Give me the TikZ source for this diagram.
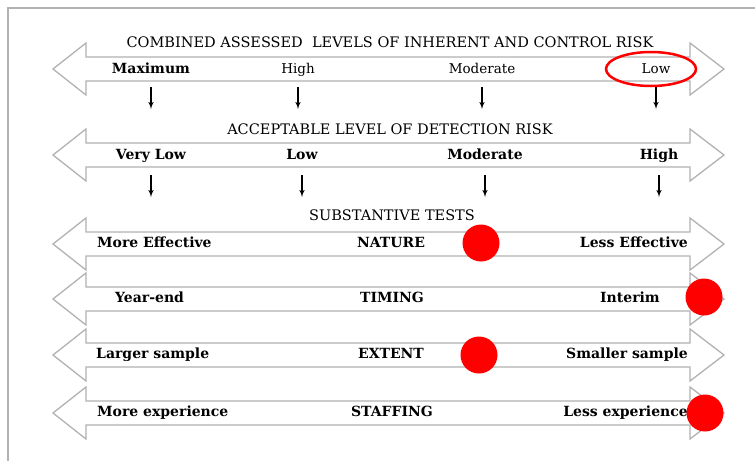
\documentclass[tikz,border=0pt]{standalone}
\usepackage{fontspec}
\setmainfont{DejaVu Serif}
\usepackage{tikz}
\usetikzlibrary{arrows}
\tikzset{
    bandarrow/.style = {
        draw=gray!60,
        line width=1.3pt,
        line join=miter
    },
    titlenode/.style = {
        font=\fontsize{14.5}{16}\selectfont,
        inner sep=0pt,
        text height=10.5pt,
        text depth=0pt
    },
    labelnode/.style = {
        font=\fontsize{13.5}{15}\selectfont,
        inner sep=0pt,
        text height=10pt,
        text depth=3pt
    },
    boldlabelnode/.style = {
        labelnode,
        font=\fontsize{14}{16}\selectfont\bfseries
    },
    downarrow/.style = {
        -latex',
        line width=1.4pt,
        draw=black
    },
    reddot/.style = {
        circle,
        fill=red,
        minimum size=37pt,
        inner sep=0pt
    }
}
\begin{document}
\begin{tikzpicture}[x=1pt,y=-1pt]
            \useasboundingbox (0,0) rectangle (755,461);
            \fill[white] (0,0) rectangle (755,461);
            % frame
            \draw[gray!60, line width=1.5pt] (755,8) -- (8,8) -- (8,461);

            % wide double arrows
            \draw[bandarrow] (86,57) -- (690,57) -- (690,43) -- (724,69) -- (690,95) -- (690,81) -- (86,81) -- (86,95) -- (53,69) -- (86,43) -- cycle;
            \draw[bandarrow] (86,143) -- (690,143) -- (690,129) -- (724,155) -- (690,181) -- (690,167) -- (86,167) -- (86,181) -- (53,155) -- (86,129) -- cycle;
            \draw[bandarrow] (86,232) -- (690,232) -- (690,218) -- (724,244) -- (690,270) -- (690,256) -- (86,256) -- (86,270) -- (53,244) -- (86,218) -- cycle;
            \draw[bandarrow] (86,287) -- (690,287) -- (690,273) -- (724,299) -- (690,325) -- (690,311) -- (86,311) -- (86,325) -- (53,299) -- (86,273) -- cycle;
            \draw[bandarrow] (86,343) -- (690,343) -- (690,329) -- (724,355) -- (690,381) -- (690,367) -- (86,367) -- (86,381) -- (53,355) -- (86,329) -- cycle;
            \draw[bandarrow] (86,401) -- (690,401) -- (690,387) -- (724,413) -- (690,439) -- (690,425) -- (86,425) -- (86,439) -- (53,413) -- (86,387) -- cycle;

            % titles
            \node [titlenode] (combined) at (390,42) {COMBINED ASSESSED\ \ LEVELS OF INHERENT AND CONTROL RISK};
            \node [titlenode] (acceptable) at (390,129) {ACCEPTABLE LEVEL OF DETECTION RISK};
            \node [titlenode] (substantive) at (392,215) {SUBSTANTIVE TESTS};

            % combined risk levels
            \node [boldlabelnode] (maximum) at (151,70) {Maximum};
            \node [labelnode] (high) at (298,70) {High};
            \node [labelnode] (moderate) at (482,70) {Moderate};
            \node [labelnode] (low) at (656,70) {Low};

            % detection risk levels
            \node [boldlabelnode] (verylowdr) at (151,156) {Very Low};
            \node [boldlabelnode] (lowdr) at (302,156) {Low};
            \node [boldlabelnode] (moderatedr) at (485,156) {Moderate};
            \node [boldlabelnode] (highdr) at (659,156) {High};

            % substantive tests
            \node [boldlabelnode, anchor=west] (moreeff) at (97,244) {More Effective};
            \node [boldlabelnode] (nature) at (391,244) {NATURE};
            \node [boldlabelnode, anchor=east] (lesseff) at (688,244) {Less Effective};

            \node [boldlabelnode, anchor=west] (yearend) at (115,299) {Year-end};
            \node [boldlabelnode] (timing) at (392,299) {TIMING};
            \node [boldlabelnode, anchor=east] (interim) at (660,299) {Interim};

            \node [boldlabelnode, anchor=west] (larger) at (96,355) {Larger sample};
            \node [boldlabelnode] (extent) at (391,355) {EXTENT};
            \node [boldlabelnode, anchor=east] (smaller) at (688,355) {Smaller sample};

            \node [boldlabelnode, anchor=west] (moreexp) at (97,413) {More experience};
            \node [boldlabelnode] (staffing) at (392,413) {STAFFING};
            \node [boldlabelnode, anchor=east] (lessexp) at (688,413) {Less experience};

            % down arrows
            \draw[downarrow] (maximum |- 0,87) -- (maximum |- 0,109);
            \draw[downarrow] (high |- 0,87) -- (high |- 0,109);
            \draw[downarrow] (moderate |- 0,87) -- (moderate |- 0,109);
            \draw[downarrow] (low |- 0,87) -- (low |- 0,109);
            \draw[downarrow] (verylowdr |- 0,175) -- (verylowdr |- 0,197);
            \draw[downarrow] (lowdr |- 0,175) -- (lowdr |- 0,197);
            \draw[downarrow] (moderatedr |- 0,175) -- (moderatedr |- 0,197);
            \draw[downarrow] (highdr |- 0,175) -- (highdr |- 0,197);

            % highlights
            \draw[red, line width=2.5pt] (651,69) ellipse [x radius=45, y radius=17];
            \node [reddot] (dotnature) at (481,243) {};
            \node [reddot] (dottiming) at (704,297) {};
            \node [reddot] (dotextent) at (479,355) {};
            \node [reddot] (dotstaffing) at (705,413) {};
        \end{tikzpicture}
\end{document}
